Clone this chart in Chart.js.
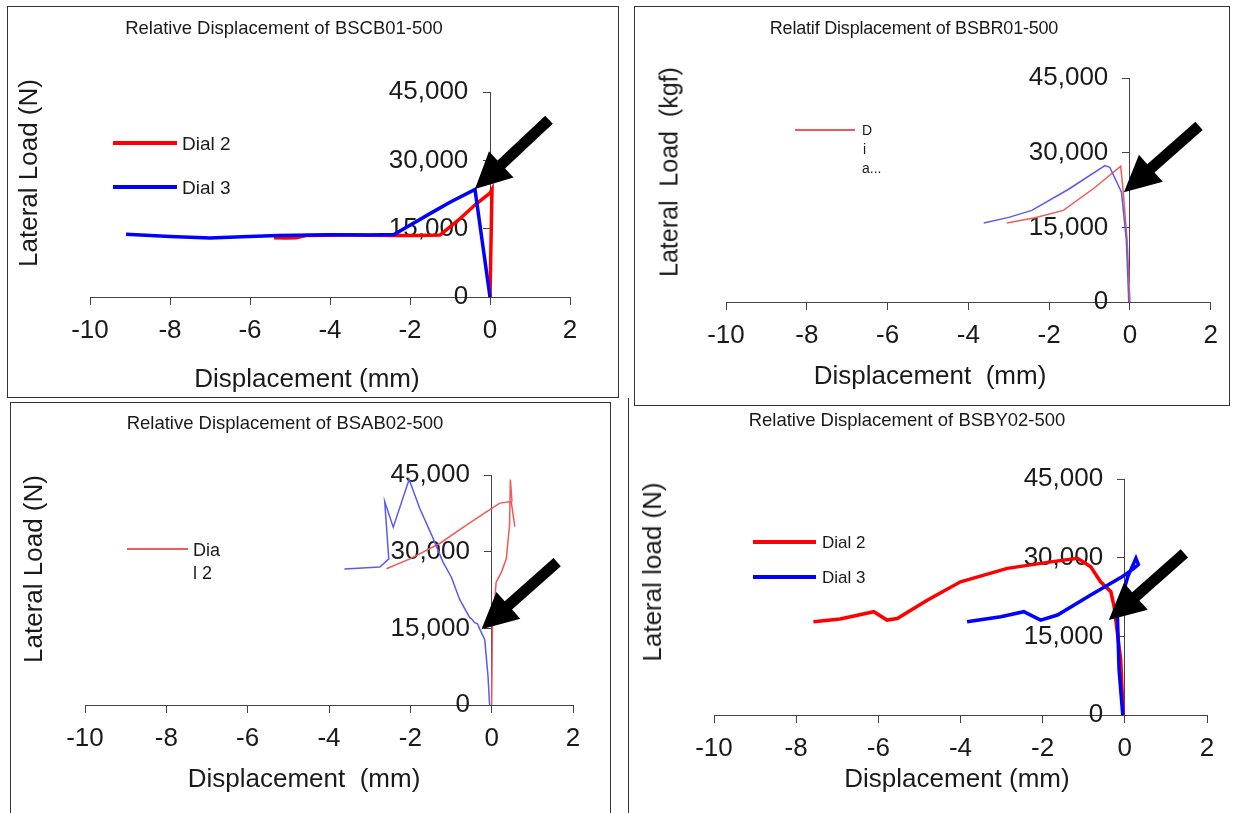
<!DOCTYPE html>
<html>
<head>
<meta charset="utf-8">
<script src="https://cdn.jsdelivr.net/npm/chart.js@4.4.1/dist/chart.umd.min.js"></script>
<style>
  body { margin: 0; background: #fff; width: 1239px; height: 813px; overflow: hidden; position: relative; font-family: "Liberation Sans", Arial, sans-serif; color: #1a1a1a; }
  canvas { position: absolute; }
  .frame { position: absolute; border: 1px solid #333; box-sizing: border-box; pointer-events: none; }
  .txt { position: absolute; white-space: pre; line-height: 1; }
  .c { transform: translate(-50%, -50%); }
  .v { transform: translate(-50%, -50%) rotate(-90deg); }
  .l { transform: translate(0, -50%); }
  .key { position: absolute; }
</style>
</head>
<body>

<div class="frame" style="left:7px;top:6px;width:612px;height:392px;"></div>
<div class="frame" style="left:634px;top:6px;width:596px;height:400px;"></div>
<div class="frame" style="left:10px;top:402px;width:601px;height:420px;"></div>
<div class="frame" style="left:628px;top:398px;width:620px;height:430px;border-top:none;border-right:none;"></div>

<canvas id="p1" width="611" height="390" style="left:7px;top:7px;"></canvas>
<canvas id="p2" width="595" height="398" style="left:634px;top:7px;"></canvas>
<canvas id="p3" width="600" height="413" style="left:10px;top:400px;"></canvas>
<canvas id="p4" width="611" height="415" style="left:628px;top:398px;"></canvas>

<!-- TITLES -->
<div class="txt c" style="left:284px;top:28px;font-size:18.5px;">Relative Displacement of BSCB01-500</div>
<div class="txt c" style="left:914px;top:28px;font-size:18px;letter-spacing:-0.2px;">Relatif Displacement of BSBR01-500</div>
<div class="txt c" style="left:285px;top:423px;font-size:18.5px;">Relative Displacement of BSAB02-500</div>
<div class="txt c" style="left:907px;top:420px;font-size:18.5px;">Relative Displacement of BSBY02-500</div>

<!-- AXIS TITLES -->
<div class="txt v" style="left:28px;top:173px;font-size:26px;">Lateral Load (N)</div>
<div class="txt c" style="left:307px;top:378px;font-size:26px;">Displacement (mm)</div>
<div class="txt v" style="left:669px;top:172px;font-size:25px;">Lateral  Load  (kgf)</div>
<div class="txt c" style="left:930px;top:375px;font-size:26px;">Displacement  (mm)</div>
<div class="txt v" style="left:33px;top:569px;font-size:26px;">Lateral Load (N)</div>
<div class="txt c" style="left:304px;top:778px;font-size:26px;">Displacement  (mm)</div>
<div class="txt v" style="left:652px;top:572px;font-size:26px;">Lateral load (N)</div>
<div class="txt c" style="left:957px;top:778px;font-size:26px;">Displacement (mm)</div>

<!-- LEGENDS -->
<div class="key" style="left:113px;top:141px;width:64px;height:4px;background:#ff0000;"></div>
<div class="txt l" style="left:182px;top:143px;font-size:19px;">Dial 2</div>
<div class="key" style="left:113px;top:185px;width:64px;height:4px;background:#0000ff;"></div>
<div class="txt l" style="left:182px;top:187px;font-size:19px;">Dial 3</div>

<div class="key" style="left:795px;top:129px;width:60px;height:1.5px;background:#f05a5a;"></div>
<div class="txt l" style="left:862px;top:130px;font-size:14px;">D</div>
<div class="txt l" style="left:863px;top:149px;font-size:14px;">i</div>
<div class="txt l" style="left:862px;top:168px;font-size:14px;">a...</div>

<div class="key" style="left:127px;top:548px;width:61px;height:1.5px;background:#f05a5a;"></div>
<div class="txt l" style="left:193px;top:550px;font-size:18px;">Dia</div>
<div class="txt l" style="left:193px;top:573px;font-size:18px;">l 2</div>

<div class="key" style="left:753px;top:540px;width:63px;height:4px;background:#ff0000;"></div>
<div class="txt l" style="left:822px;top:542px;font-size:17px;">Dial 2</div>
<div class="key" style="left:753px;top:575px;width:63px;height:4px;background:#0000ff;"></div>
<div class="txt l" style="left:822px;top:577px;font-size:17px;">Dial 3</div>

<script>
// AXES (same for all four panels)
const xTicks = { min: -10, max: 2, step: 2 };
const yTicks = { min: 0, max: 45000, step: 15000 };

// BSCB01-500
const p1_dial2_x = [0, 0.05, 0.0, -0.35, -0.8, -1.25, -1.8, -2.4, -3.5, -4.6, -4.85, -5.1, -5.4];
const p1_dial2_y = [0, 23600, 22800, 20400, 16800, 13600, 13500, 13500, 13600, 13500, 13000, 12950, 13000];
const p1_dial3_x = [0, -0.375, -1.0, -1.5, -2.4, -3.0, -4.0, -5.3, -6.2, -7.0, -8.0, -9.1];
const p1_dial3_y = [0, 23600, 20800, 18300, 13700, 13600, 13650, 13500, 13200, 12950, 13300, 13800];

// BSBR01-500
const p2_dial2_x = [0, -0.07, -0.17, -0.23, -0.9, -1.65, -2.35, -3.05];
const p2_dial2_y = [0, 12400, 22400, 27270, 22800, 18400, 16940, 15860];
const p2_dial3_x = [-0.03, -0.09, -0.21, -0.5, -0.62, -1.53, -2.43, -3.0, -3.62];
const p2_dial3_y = [0, 12400, 22070, 27070, 27400, 22600, 18400, 17000, 15860];

// BSAB02-500 (null splits the red trace)
const p3_dial2_x = [-2.59, -2.01, -1.28, -0.62, -0.13, 0.2, 0.48, 0.57, null, 0, 0.02, 0.11, 0.24, 0.36, 0.44, 0.46, 0.5];
const p3_dial2_y = [26650, 28600, 31600, 35200, 37800, 39500, 39800, 34900, null, 0, 15500, 24000, 26000, 28600, 35200, 44100, 39800];
const p3_dial3_x = [-0.05, -0.09, -0.17, -0.29, -0.35, -0.42, -0.5, -0.54, -0.79, -0.99, -1.2, -1.44, -1.77, -2.03, -2.42, -2.63, -2.53, -2.75, -3.62];
const p3_dial3_y = [0, 5600, 12800, 14800, 15900, 16100, 16900, 17100, 20700, 25000, 28000, 32600, 38500, 44100, 34800, 39800, 28600, 27000, 26600];

// BSBY02-500
const p4_dial2_x = [-0.04, -0.1, -0.26, -0.34, -0.59, -0.83, -1.15, -1.8, -2.86, -4.0, -4.81, -5.54, -5.79, -6.11, -6.93, -7.58];
const p4_dial2_y = [0, 10500, 20640, 23500, 25400, 28270, 29870, 29200, 27960, 25400, 21900, 18400, 18100, 19700, 18300, 17780];
const p4_dial3_x = [-0.05, -0.14, -0.18, -0.05, 0.07, 0.27, 0.33, 0.2, -0.1, -0.83, -1.64, -2.05, -2.46, -3.02, -3.84];
const p4_dial3_y = [0, 8580, 18740, 23000, 26360, 29900, 28700, 27800, 26200, 22870, 19060, 18100, 19700, 18740, 17780];

// ARROWS (tip, tail in data units)
const p1_arrow = { tip: [-0.375, 23700], tail: [1.475, 38900] };
const p2_arrow = { tip: [-0.15, 22060], tail: [1.71, 35400] };
const p3_arrow = { tip: [-0.25, 14800], tail: [1.61, 27970] };
const p4_arrow = { tip: [-0.39, 18100], tail: [1.45, 30800] };

function toPoints(xs, ys) {
	return xs.map((x, i) => ({ x: x, y: ys[i] }));
}

// BLACK ARROW POINTING AT THE CURVE
const arrowPlugin = {
	id: 'arrow',
	afterDatasetsDraw(chart, args, opts) {
		if (!opts || !opts.tip) return;
		const sx = chart.scales.x, sy = chart.scales.y;
		const tx = sx.getPixelForValue(opts.tip[0]), ty = sy.getPixelForValue(opts.tip[1]);
		const ax = sx.getPixelForValue(opts.tail[0]), ay = sy.getPixelForValue(opts.tail[1]);
		const ang = Math.atan2(ty - ay, tx - ax);
		const head = 36, half = 18, shaft = 5.5;
		const bx = tx - head * Math.cos(ang), by = ty - head * Math.sin(ang);
		const nx = -Math.sin(ang), ny = Math.cos(ang);
		const ctx = chart.ctx;
		ctx.save();
		ctx.fillStyle = '#000';
		ctx.beginPath();
		ctx.moveTo(ax + nx * shaft, ay + ny * shaft);
		ctx.lineTo(bx + nx * shaft, by + ny * shaft);
		ctx.lineTo(bx + nx * half, by + ny * half);
		ctx.lineTo(tx, ty);
		ctx.lineTo(bx - nx * half, by - ny * half);
		ctx.lineTo(bx - nx * shaft, by - ny * shaft);
		ctx.lineTo(ax - nx * shaft, ay - ny * shaft);
		ctx.closePath();
		ctx.fill();
		ctx.restore();
	}
};

function makeChart(id, padding, sets, arrow) {
	const axisColor = '#444';
	const tickFont = { family: 'Liberation Sans', size: 26 };
	return new Chart(document.getElementById(id), {
		type: 'scatter',
		data: {
			datasets: sets.map(s => ({
				data: s.data,
				showLine: true,
				borderColor: s.color,
				backgroundColor: s.color,
				borderWidth: s.width,
				pointRadius: 0,
				tension: 0,
				clip: false,
				order: s.order
			}))
		},
		options: {
			responsive: false,
			animation: false,
			layout: { padding: padding },
			plugins: { legend: { display: false }, tooltip: { enabled: false }, arrow: arrow },
			scales: {
				x: {
					type: 'linear', min: xTicks.min, max: xTicks.max, position: { y: 0 },
					ticks: { stepSize: xTicks.step, font: tickFont, color: '#1a1a1a', padding: 11 },
					grid: { drawOnChartArea: false, drawTicks: true, tickLength: 7, color: axisColor },
					border: { color: axisColor, width: 1 }
				},
				y: {
					type: 'linear', min: yTicks.min, max: yTicks.max, position: { x: 0 },
					// labels of a centred axis sit on the axis line, so pad with spaces
					ticks: { stepSize: yTicks.step, font: tickFont, color: '#1a1a1a',
						callback: v => v.toLocaleString('en-US') + '   ' },
					grid: { drawOnChartArea: false, drawTicks: true, tickLength: 7, color: axisColor },
					border: { color: axisColor, width: 1 }
				}
			}
		},
		plugins: [arrowPlugin]
	});
}

makeChart('p1', { left: 83, right: 48, top: 85, bottom: 100 }, [
	{ data: toPoints(p1_dial2_x, p1_dial2_y), color: '#ff0000', width: 3.5, order: 2 },
	{ data: toPoints(p1_dial3_x, p1_dial3_y), color: '#0000ff', width: 3.5, order: 1 }
], p1_arrow);

makeChart('p2', { left: 92, right: 16, top: 71, bottom: 103 }, [
	{ data: toPoints(p2_dial2_x, p2_dial2_y), color: '#f05a5a', width: 1.5, order: 2 },
	{ data: toPoints(p2_dial3_x, p2_dial3_y), color: '#5a5af0', width: 1.5, order: 1 }
], p2_arrow);

makeChart('p3', { left: 75, right: 37, top: 75, bottom: 108 }, [
	{ data: toPoints(p3_dial2_x, p3_dial2_y), color: '#f05a5a', width: 1.5, order: 2 },
	{ data: toPoints(p3_dial3_x, p3_dial3_y), color: '#5a5af0', width: 1.5, order: 1 }
], p3_arrow);

makeChart('p4', { left: 86, right: 32, top: 81, bottom: 98 }, [
	{ data: toPoints(p4_dial2_x, p4_dial2_y), color: '#ff0000', width: 3.5, order: 2 },
	{ data: toPoints(p4_dial3_x, p4_dial3_y), color: '#0000ff', width: 3.5, order: 1 }
], p4_arrow);
</script>
</body>
</html>
